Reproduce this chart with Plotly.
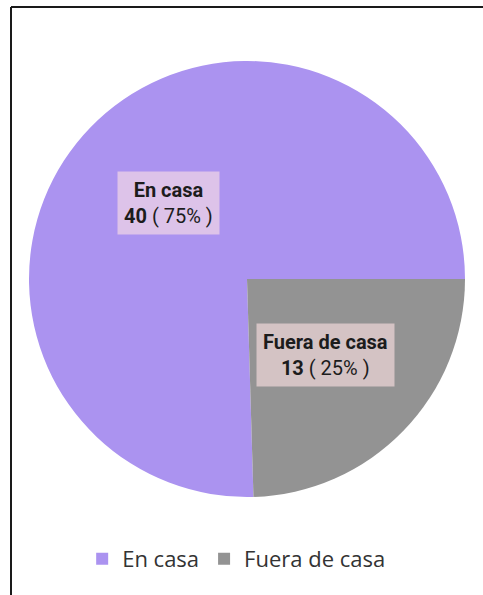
import math
import plotly.graph_objects as go

# Data
labels = ["En casa", "Fuera de casa"]
values = [40, 13]
colors = ["#ab93f0", "#939393"]

W, H = 483, 595
cx, cy, R = 247, 279, 218  # pie centre / radius in pixels (layout)

total = sum(values)
# second slice starts at 3 o'clock, slices run clockwise
rotation = (90 - 360 * values[0] / total) % 360

fig = go.Figure()
fig.add_trace(go.Pie(
    labels=labels,
    values=values,
    sort=False,
    direction="clockwise",
    rotation=rotation,
    marker=dict(colors=colors, line=dict(width=0)),
    textinfo="none",
    hoverinfo="label+value+percent",
    domain=dict(x=[(cx - R) / W, (cx + R) / W], y=[1 - (cy + R) / H, 1 - (cy - R) / H]),
    showlegend=True,
))

# Labels with boxes placed along each slice bisector (math angles, screen y up)
start = 90 - rotation  # math angle of first slice start
annotations = []
acc = 0
for lab, v in zip(labels, values):
    frac = v / total
    mid = start - 360 * (acc + frac / 2)
    acc += frac
    r = 0.5 * R
    px = cx + r * math.cos(math.radians(mid))
    py = cy - r * math.sin(math.radians(mid))
    pct = round(frac * 100)
    annotations.append(dict(
        x=px / W, y=1 - py / H, xref="paper", yref="paper",
        xanchor="center", yanchor="middle",
        text=f"<b>{lab}</b><br><b>{v}</b> ( {pct}% )",
        showarrow=False, align="center",
        font=dict(family="Roboto, Noto Sans, sans-serif", size=20, color="#1c1c1c"),
        bgcolor="rgba(255,226,228,0.6)", borderpad=6,
    ))

fig.update_layout(
    width=W, height=H,
    margin=dict(l=0, r=0, t=0, b=0),
    paper_bgcolor="white", plot_bgcolor="white",
    annotations=annotations,
    legend=dict(orientation="h", x=0.49, xanchor="center", y=1 - 559 / H, yanchor="middle",
                font=dict(family="Open Sans, Noto Sans, sans-serif", size=22, color="#333333"),
                itemsizing="constant"),
    shapes=[
        dict(type="line", xref="paper", yref="paper",
             x0=11 / W, x1=11 / W, y0=0, y1=1 - 7 / H,
             line=dict(color="#1a1a1a", width=2), layer="above"),
        dict(type="line", xref="paper", yref="paper",
             x0=11 / W, x1=1, y0=1 - 7 / H, y1=1 - 7 / H,
             line=dict(color="#1a1a1a", width=2), layer="above"),
    ],
)

fig.write_html("out.html")
